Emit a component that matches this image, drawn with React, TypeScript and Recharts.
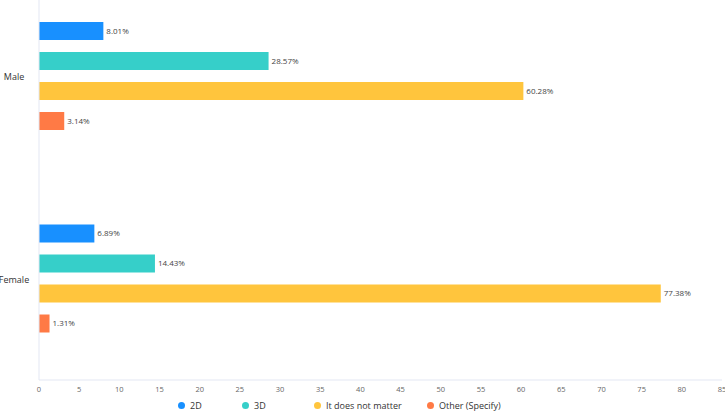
import { Bar, BarChart, LabelList, Legend, XAxis, YAxis } from "recharts";

const categories = ["Male", "Female"];
const series2D = [8.01, 6.89];
const series3D = [28.57, 14.43];
const seriesNoMatter = [60.28, 77.38];
const seriesOther = [3.14, 1.31];
const xTicks = [0, 5, 10, 15, 20, 25, 30, 35, 40, 45, 50, 55, 60, 65, 70, 75, 80, 85];

const seriesMeta = [
  { key: "d2", name: "2D", color: "#1890ff" },
  { key: "d3", name: "3D", color: "#36cfc9" },
  { key: "any", name: "It does not matter", color: "#ffc53d" },
  { key: "other", name: "Other (Specify)", color: "#ff7a45" },
];

const data = categories.map((name, i) => ({
  name,
  d2: series2D[i],
  d3: series3D[i],
  any: seriesNoMatter[i],
  other: seriesOther[i],
}));

const FONT = "'Open Sans', sans-serif";
const legendWidths = [64, 72, 113, 90];

function CategoryTick(props: any) {
  const { y, payload } = props;
  return (
    <text x={14} y={y} dy={4} textAnchor="middle" fontSize={9} fill="#333" fontFamily={FONT}>
      {payload.value}
    </text>
  );
}

function LegendRow() {
  return (
    <div style={{ display: "flex", height: 14, paddingLeft: 178, fontFamily: FONT, fontSize: 9, color: "#333" }}>
      {seriesMeta.map((s, i) => (
        <div key={s.key} style={{ width: legendWidths[i], display: "flex", alignItems: "center", whiteSpace: "nowrap" }}>
          <span
            style={{ width: 7, height: 7, borderRadius: "50%", background: s.color, display: "inline-block", marginRight: 5 }}
          />
          {s.name}
        </div>
      ))}
    </div>
  );
}

export default function App() {
  return (
    <div style={{ position: "absolute", left: 0, top: 0, width: 725, height: 411, overflow: "hidden", background: "#fff" }}>
      <div style={{ position: "absolute", left: 0, top: -25 }}>
        <BarChart
          width={725}
          height={446}
          data={data}
          layout="vertical"
          margin={{ top: 0, right: 3, bottom: 9, left: 0 }}
          barSize={18}
          barGap={12}
        >
          <XAxis
            type="number"
            domain={[0, 85]}
            ticks={xTicks}
            interval={0}
            height={18}
            tickLine={false}
            tickSize={4}
            tickMargin={3}
            axisLine={{ stroke: "#e3e7f3" }}
            tick={{ fontSize: 7.5, fill: "#666", fontFamily: FONT }}
          />
          <YAxis
            type="category"
            dataKey="name"
            width={39}
            tickLine={false}
            axisLine={{ stroke: "#e3e7f3" }}
            tick={<CategoryTick />}
          />
          <Legend verticalAlign="bottom" height={14} content={() => <LegendRow />} />
          {seriesMeta.map((s) => (
            <Bar key={s.key} dataKey={s.key} name={s.name} fill={s.color} isAnimationActive={false}>
              <LabelList
                dataKey={s.key}
                position="right"
                offset={3}
                formatter={(v: any) => `${Number(v).toFixed(2)}%`}
                style={{ fontSize: 8, fill: "#444", fontFamily: FONT }}
              />
            </Bar>
          ))}
        </BarChart>
      </div>
    </div>
  );
}
